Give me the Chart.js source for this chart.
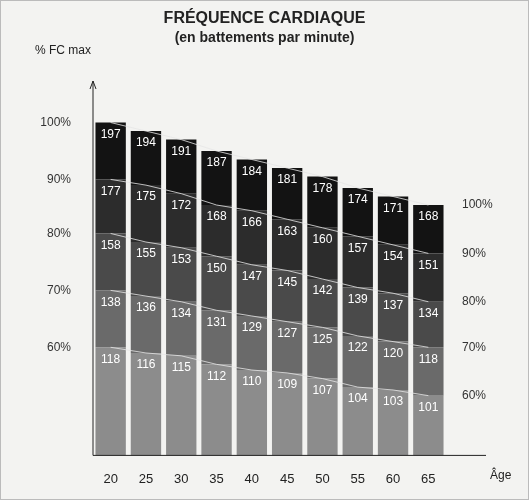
<!DOCTYPE html>
<html><head><meta charset="utf-8">
<script src="https://cdn.jsdelivr.net/npm/chart.js@4"></script>
<style>
body{margin:0;background:#fff}
#wrap{width:527px;height:498px;border:1px solid #bbb;background:#f3f3f1;position:relative}
canvas{position:absolute;left:0;top:0}
</style></head><body>
<div id="wrap"><canvas id="c" width="527" height="498"></canvas></div>
<script>
const ages = ['20','25','30','35','40','45','50','55','60','65'];
const fc100 = [197,194,191,187,184,181,178,174,171,168];
const fc90  = [177,175,172,168,166,163,160,157,154,151];
const fc80  = [158,155,153,150,147,145,142,139,137,134];
const fc70  = [138,136,134,131,129,127,125,122,120,118];
const fc60  = [118,116,115,112,110,109,107,104,103,101];
const pctLabels = ['100%','90%','80%','70%','60%'];
const base = 80;

const levels = [fc60, fc70, fc80, fc90, fc100];
const colors = ['#8c8c8c','#6a6a6a','#4a4a4a','#2c2c2c','#131313'];
const barSets = levels.map((lv, i) => ({
  type: 'bar',
  data: lv.map((v, j) => [i === 0 ? base : levels[i - 1][j], v]),
  backgroundColor: colors[i],
  barPercentage: 1, categoryPercentage: 0.86,
  grouped: false, order: 2
}));
const lineSets = levels.map(lv => ({
  type: 'line', data: lv, borderColor: 'rgba(230,230,230,0.8)', borderWidth: 1,
  pointRadius: 0, order: 1, tension: 0
}));

const labelPlugin = {
  id: 'labels',
  afterDatasetsDraw(chart) {
    const ctx = chart.ctx;
    ctx.save();
    ctx.font = '12px "Liberation Sans", Arial';
    ctx.fillStyle = '#fff';
    ctx.textBaseline = 'top';
    for (let i = 0; i < 5; i++) {
      chart.getDatasetMeta(i).data.forEach((bar, j) => {
        ctx.textAlign = 'center';
        ctx.fillText(String(levels[i][j]), bar.x, bar.y + 6);
      });
    }
    const ca = chart.chartArea;
    ctx.fillStyle = '#222';
    ctx.font = '12px "Liberation Sans", Arial';
    ctx.textAlign = 'left';
    ctx.fillText('% FC max', 34, 44);
    ctx.fillText('Âge', ca.right + 44, ca.bottom + 14);
    // axis arrow
    ctx.strokeStyle = '#222'; ctx.lineWidth = 1;
    ctx.beginPath();
    ctx.moveTo(ca.left, ca.bottom); ctx.lineTo(ca.left, 80);
    ctx.moveTo(ca.left - 3, 88); ctx.lineTo(ca.left, 80); ctx.lineTo(ca.left + 3, 88);
    ctx.moveTo(ca.left, ca.bottom); ctx.lineTo(ca.right + 40, ca.bottom);
    ctx.stroke();
    ctx.restore();
  }
};

new Chart(document.getElementById('c'), {
  data: { labels: ages, datasets: [...barSets, ...lineSets] },
  plugins: [labelPlugin],
  options: {
    responsive: false, animation: false,
    layout: { padding: { top: 0, right: 0, bottom: 4, left: 0 } },
    plugins: {
      legend: { display: false }, tooltip: { enabled: false },
      title: { display: true, text: 'FRÉQUENCE CARDIAQUE', color: '#222',
        font: { size: 16, weight: 'bold', family: '"Liberation Sans", Arial' }, padding: { top: 8, bottom: 2 } },
      subtitle: { display: true, text: '(en battements par minute)', color: '#222',
        font: { size: 14, weight: 'bold', family: '"Liberation Sans", Arial' }, padding: { bottom: 30 } }
    },
    scales: {
      x: { grid: { display: false }, border: { display: false },
        ticks: { color: '#222', font: { size: 13 }, padding: 8 } },
      y: { min: base, max: 213, grid: { display: false }, border: { display: false },
        afterFit(s) { s.width = 92; },
        afterBuildTicks(s) { s.ticks = fc60.slice(0,1).concat([fc70[0], fc80[0], fc90[0], fc100[0]]).map(v => ({ value: v })); },
        ticks: { color: '#333', font: { size: 12 }, padding: 14,
          callback: (v) => pctLabels[4 - levels.findIndex(l => l[0] === v)] } },
      y2: { position: 'right', min: base, max: 213, grid: { display: false }, border: { display: false },
        afterFit(s) { s.width = 82; },
        afterBuildTicks(s) { s.ticks = levels.map(l => ({ value: l[9] })); },
        ticks: { color: '#333', font: { size: 12 }, padding: 8,
          callback: (v) => pctLabels[4 - levels.findIndex(l => l[9] === v)] } }
    }
  }
});
</script></body></html>
